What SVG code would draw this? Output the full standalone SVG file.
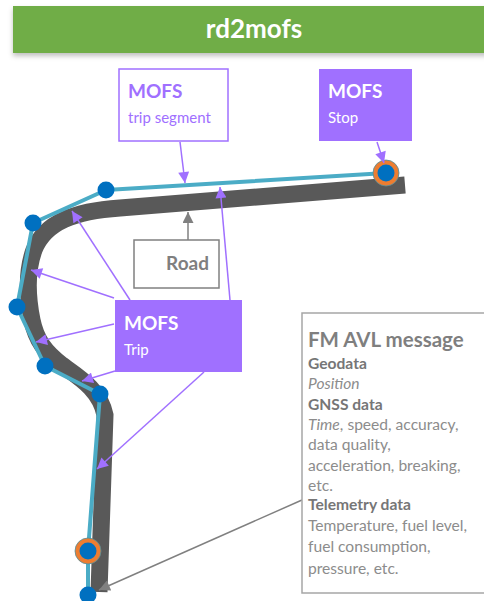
<svg xmlns="http://www.w3.org/2000/svg" width="484" height="601" viewBox="0 0 484 601">
<style>
.t{font-family:Lato,"Open Sans","Liberation Sans",sans-serif}
.mofs{font-size:19px;font-weight:bold}
.sub{font-size:15px}
.pl{stroke:#A070FF;stroke-width:1.5;fill:none}
.gl{stroke:#808080;stroke-width:1.5;fill:none}
.dot{fill:#0070C0}
.ring{fill:#ED7D31;stroke:#4F8FA0;stroke-width:0.8}
.fm{font-size:15.6px;fill:#8C8C8C}
.fmb{font-size:15.6px;font-weight:bold;fill:#767676}
</style>
<defs>
<marker id="ap" viewBox="0 0 10 10" refX="10" refY="5" markerWidth="12" markerHeight="11" markerUnits="userSpaceOnUse" orient="auto"><path d="M0,0 L10,5 L0,10 z" fill="#A070FF"/></marker>
<marker id="ag" viewBox="0 0 10 10" refX="10" refY="5" markerWidth="12" markerHeight="11" markerUnits="userSpaceOnUse" orient="auto"><path d="M0,0 L10,5 L0,10 z" fill="#808080"/></marker>
<filter id="sh" x="-5%" y="-20%" width="110%" height="160%"><feDropShadow dx="0" dy="3" stdDeviation="2.5" flood-color="#000" flood-opacity="0.25"/></filter>
</defs>
<rect width="484" height="601" fill="#FFFFFF"/>
<g id="title">
<rect x="13" y="6" width="480" height="47" fill="#70AD47" filter="url(#sh)"/>
<text class="t" x="254" y="38" font-size="26" font-weight="bold" fill="#FFFFFF" text-anchor="middle">rd2mofs</text>
</g>
<g id="road-line">
<path d="M405,185 L120,208 C75,211 45,222 34,250 C26,272 28,300 32,320 C36,340 45,352 62,365 C80,378 100,390 105,415 L99,592" fill="none" stroke="#595959" stroke-width="17"/>
</g>
<g id="track">
<polyline points="386,173 106,190 33,223 17,307 45,366 100,394 88,551 88,595" fill="none" stroke="#4BACC6" stroke-width="4" stroke-linejoin="round"/>
<circle class="ring" cx="386" cy="173" r="13"/>
<circle class="dot" cx="386" cy="173" r="8.5"/>
<circle class="dot" cx="106" cy="190" r="8.5"/>
<circle class="dot" cx="33" cy="223" r="8.5"/>
<circle class="dot" cx="17" cy="307" r="8.5"/>
<circle class="dot" cx="45" cy="366" r="8.5"/>
<circle class="dot" cx="100" cy="394" r="8.5"/>
<circle class="ring" cx="88" cy="551" r="13"/>
<circle class="dot" cx="88" cy="551" r="8.5"/>
<circle class="dot" cx="88" cy="595" r="8.5"/>
</g>
<g id="connectors">
<line class="pl" x1="180" y1="142" x2="185" y2="183" marker-end="url(#ap)"/>
<line class="pl" x1="377" y1="142" x2="384" y2="163" marker-end="url(#ap)"/>
<line class="pl" x1="130" y1="300" x2="72" y2="211" marker-end="url(#ap)"/>
<line class="pl" x1="230" y1="300" x2="220" y2="187" marker-end="url(#ap)"/>
<line class="pl" x1="114" y1="298" x2="31" y2="270" marker-end="url(#ap)"/>
<line class="pl" x1="114" y1="324" x2="36" y2="342" marker-end="url(#ap)"/>
<line class="pl" x1="115" y1="371" x2="82" y2="381" marker-end="url(#ap)"/>
<line class="pl" x1="204" y1="372" x2="97" y2="469" marker-end="url(#ap)"/>
<line class="gl" x1="188" y1="240" x2="188" y2="212" marker-end="url(#ag)"/>
<line class="gl" x1="302" y1="500" x2="99" y2="590" marker-end="url(#ag)"/>
</g>
<g id="trip-segment">
<rect x="119" y="69" width="109" height="72" fill="#FFFFFF" stroke="#A070FF" stroke-width="1.5"/>
<text class="t mofs" x="128" y="98" fill="#A070FF">MOFS</text>
<text class="t sub" x="128" y="123" fill="#A070FF">trip segment</text>
</g>
<g id="stop">
<rect x="319" y="69" width="93" height="72" fill="#A070FF"/>
<text class="t mofs" x="328" y="98" fill="#FFFFFF">MOFS</text>
<text class="t sub" x="328" y="123" fill="#FFFFFF">Stop</text>
</g>
<g id="road">
<rect x="134" y="240" width="85" height="48" fill="#FFFFFF" stroke="#808080" stroke-width="1.5"/>
<text class="t" x="209" y="270" font-size="19" font-weight="bold" fill="#7F7F7F" text-anchor="end">Road</text>
</g>
<g id="trip">
<rect x="115" y="300" width="127" height="72" fill="#A070FF"/>
<text class="t mofs" x="124" y="330" fill="#FFFFFF">MOFS</text>
<text class="t sub" x="124" y="355" fill="#FFFFFF">Trip</text>
</g>
<g id="fm-avl">
<rect x="302" y="313" width="200" height="280" fill="#FFFFFF" stroke="#A6A6A6" stroke-width="1.5"/>
<text class="t" x="308" y="347" font-size="20.5" font-weight="bold" fill="#7F7F7F">FM AVL message</text>
<text class="t fmb" x="308" y="369">Geodata</text>
<text class="t fm" x="308" y="389" font-style="italic">Position</text>
<text class="t fmb" x="308" y="410">GNSS data</text>
<text class="t fm" x="308" y="430"><tspan font-style="italic">Time</tspan>, speed, accuracy,</text>
<text class="t fm" x="308" y="450">data quality,</text>
<text class="t fm" x="308" y="471">acceleration, breaking,</text>
<text class="t fm" x="308" y="491">etc.</text>
<text class="t fmb" x="308" y="510">Telemetry data</text>
<text class="t fm" x="308" y="531">Temperature, fuel level,</text>
<text class="t fm" x="308" y="552">fuel consumption,</text>
<text class="t fm" x="308" y="574">pressure, etc.</text>
</g>
</svg>
